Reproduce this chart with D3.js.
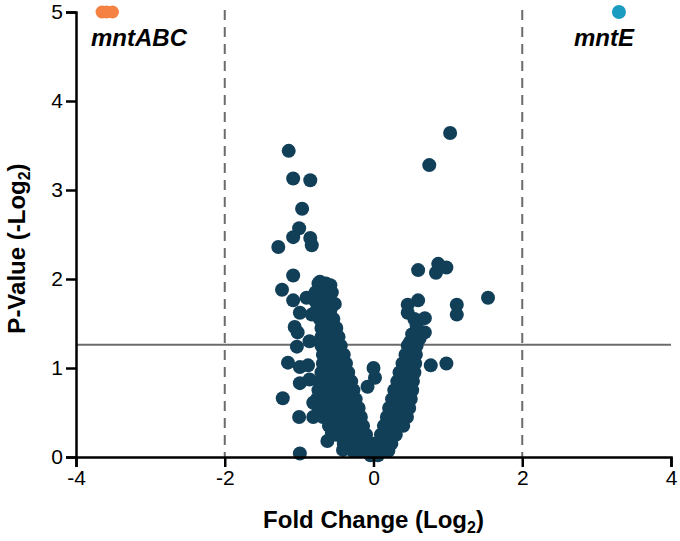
<!DOCTYPE html>
<html>
<head>
<meta charset="utf-8">
<script src="https://cdn.jsdelivr.net/npm/d3@7"></script>
<style>
body { margin:0; background:#fff; }
text { font-family:"Liberation Sans", Arial, sans-serif; }
.tick text { font-size:21px; }
.title { font-size:24px; font-weight:bold; }
.gene { font-size:24px; font-weight:bold; font-style:italic; }
</style>
</head>
<body>
<svg id="graph1"></svg>
<script>
// x ticks / y ticks
var xTicks = [-4,-2,0,2,4]
var yTicks = [0,1,2,3,4,5]
var foldCut = [-2,2]
var pCut = 1.26

// highlighted genes
var mntABCFold = [-3.65,-3.59,-3.51]
var mntABCP = [5,5,5]
var mntEFold = [3.30]
var mntEP = [5]

// all other genes [fold change (log2), p-value (-log2)]
var genes = [
    [-1.14,3.44],[-1.08,3.13],[-0.85,3.11],[-0.96,2.79],[-1.00,2.57],[-1.08,2.47],[-1.28,2.36],[-0.85,2.46],
    [-0.83,2.38],[-1.08,2.04],[-1.23,1.88],[-0.72,1.97],[-0.58,1.93],[-0.56,1.85],[-1.08,1.76],[-0.90,1.79],
    [-0.52,1.72],[-0.99,1.62],[-0.83,1.60],[-1.06,1.46],[-1.02,1.40],[-0.86,1.30],[-1.03,1.24],[-1.15,1.06],
    [-0.99,1.01],[-0.88,1.03],[-0.99,0.83],[-0.86,0.87],[-0.81,0.61],[-1.22,0.66],[-1.00,0.45],[-0.81,0.45],
    [-0.99,0.04],[-0.56,0.27],[-0.41,0.08],[-0.62,0.18],
    [0.00,1.00],[0.02,0.89],[-0.08,0.79],
    [1.03,3.64],[0.75,3.28],[0.60,2.10],[0.87,2.17],[0.98,2.13],[0.84,2.07],[1.54,1.79],[1.12,1.71],
    [1.12,1.60],[0.98,1.05],[0.77,1.03],[0.60,1.76],[0.46,1.71],[0.46,1.62],[0.69,1.56],[0.69,1.40],
    [0.49,1.29],[0.55,1.55],[0.58,1.48],[0.52,1.38],[0.62,1.33],
    [-0.74,1.95],[-0.64,1.95],
    [-0.78,1.85],[-0.68,1.85],[-0.60,1.85],
    [-0.78,1.75],[-0.68,1.75],[-0.60,1.75],
    [-0.76,1.65],[-0.66,1.65],[-0.58,1.65],
    [-0.72,1.55],[-0.62,1.55],[-0.54,1.55],
    [-0.70,1.45],[-0.60,1.45],[-0.50,1.45],
    [-0.70,1.35],[-0.60,1.35],[-0.50,1.35],[-0.47,1.35],
    [-0.70,1.25],[-0.60,1.25],[-0.52,1.25],[-0.44,1.25],
    [-0.68,1.15],[-0.58,1.15],[-0.48,1.15],[-0.40,1.15],
    [-0.68,1.05],[-0.58,1.05],[-0.48,1.05],[-0.37,1.05],
    [-0.70,0.95],[-0.60,0.95],[-0.50,0.95],[-0.42,0.95],[-0.34,0.95],
    [-0.72,0.85],[-0.62,0.85],[-0.52,0.85],[-0.42,0.85],[-0.30,0.85],
    [-0.74,0.75],[-0.64,0.75],[-0.54,0.75],[-0.44,0.75],[-0.35,0.75],[-0.27,0.75],
    [-0.76,0.65],[-0.66,0.65],[-0.56,0.65],[-0.46,0.65],[-0.36,0.65],[-0.24,0.65],
    [-0.74,0.55],[-0.64,0.55],[-0.54,0.55],[-0.44,0.55],[-0.34,0.55],[-0.26,0.55],[-0.20,0.55],
    [-0.68,0.45],[-0.58,0.45],[-0.48,0.45],[-0.38,0.45],[-0.28,0.45],[-0.17,0.45],
    [-0.60,0.35],[-0.50,0.35],[-0.40,0.35],[-0.30,0.35],[-0.22,0.35],[-0.14,0.35],
    [-0.50,0.25],[-0.40,0.25],[-0.30,0.25],[-0.20,0.25],[-0.10,0.25],
    [-0.40,0.15],[-0.30,0.15],[-0.20,0.15],[-0.10,0.15],[0.00,0.15],[0.08,0.15],[0.16,0.15],[0.24,0.15],
    [-0.28,0.07],[-0.18,0.07],[-0.08,0.07],[0.02,0.07],[0.12,0.07],[0.20,0.07],
    [-0.04,0.02],[0.06,0.02],
    [0.46,1.25],[0.54,1.25],[0.58,1.25],
    [0.43,1.15],[0.52,1.15],[0.57,1.15],
    [0.39,1.05],[0.48,1.05],[0.56,1.05],
    [0.35,0.95],[0.45,0.95],[0.55,0.95],
    [0.32,0.85],[0.42,0.85],[0.53,0.85],
    [0.28,0.75],[0.38,0.75],[0.47,0.75],[0.52,0.75],
    [0.25,0.65],[0.35,0.65],[0.44,0.65],[0.50,0.65],
    [0.21,0.55],[0.31,0.55],[0.41,0.55],[0.48,0.55],
    [0.18,0.45],[0.28,0.45],[0.38,0.45],[0.45,0.45],
    [0.14,0.35],[0.24,0.35],[0.34,0.35],[0.40,0.35],
    [0.10,0.25],[0.20,0.25],[0.30,0.25]
]

var drawLines = function(target,graph,xScale,yScale)
{
    target.selectAll(".cut")
        .data(foldCut)
        .enter()
        .append("line")
        .attr("x1",function(d){ return xScale(d) })
        .attr("x2",function(d){ return xScale(d) })
        .attr("y1",yScale(5)-2)
        .attr("y2",graph.height)
        .attr("stroke","#6b6b6b")
        .attr("stroke-width",2)
        .attr("stroke-dasharray","10,7")

    target.append("line")
        .attr("x1",0)
        .attr("x2",graph.width)
        .attr("y1",yScale(pCut))
        .attr("y2",yScale(pCut))
        .attr("stroke","#6b6b6b")
        .attr("stroke-width",2)
}

var drawPoints = function(target,xScale,yScale)
{
    target.append("g")
        .selectAll("circle")
        .data(genes)
        .enter()
        .append("circle")
        .attr("cx",function(d){ return xScale(d[0]) })
        .attr("cy",function(d){ return yScale(d[1]) })
        .attr("r",7)
        .attr("fill","#123f58")

    target.append("g")
        .selectAll("circle")
        .data(mntABCFold)
        .enter()
        .append("circle")
        .attr("cx",function(d){ return xScale(d) })
        .attr("cy",function(d,i){ return yScale(mntABCP[i]) })
        .attr("r",6.5)
        .attr("fill","#f58242")

    target.append("g")
        .selectAll("circle")
        .data(mntEFold)
        .enter()
        .append("circle")
        .attr("cx",function(d){ return xScale(d) })
        .attr("cy",function(d,i){ return yScale(mntEP[i]) })
        .attr("r",7)
        .attr("fill","#1a9cc0")
}

var drawAxes = function(graph,margins,xScale,yScale)
{
    var xAxis = d3.axisBottom(xScale).tickValues(xTicks).tickSize(10).tickPadding(3)
    var yAxis = d3.axisLeft(yScale).tickValues(yTicks).tickSize(10).tickPadding(3)

    var axes = d3.select("#graph1").append("g")

    axes.append("g")
        .attr("transform","translate("+margins.left+","+(margins.top+graph.height)+")")
        .call(xAxis)
    axes.append("g")
        .attr("transform","translate("+margins.left+","+margins.top+")")
        .call(yAxis)

    axes.selectAll(".domain").attr("stroke","#000").attr("stroke-width",2.5)
    axes.selectAll(".tick line").attr("stroke","#000").attr("stroke-width",2.5)
    axes.selectAll(".tick text").attr("fill","#000")
    axes.selectAll(".tick text").text(function(d){ return d < 0 ? "-" + Math.abs(d) : d })
}

var drawLabels = function(graph,margins,xScale,yScale)
{
    var labels = d3.select("#graph1").append("g")

    //x-axis
    var xt = labels.append("text")
        .classed("title",true)
        .attr("text-anchor","middle")
        .attr("x",margins.left+graph.width/2)
        .attr("y",528)
    xt.append("tspan").text("Fold Change (Log")
    xt.append("tspan").text("2").attr("font-size","16px").attr("dy",5)
    xt.append("tspan").text(")").attr("dy",-5)

    //y-axis
    var yt = labels.append("g")
        .attr("transform","translate(25,"+(margins.top+graph.height/2+14)+")")
        .append("text")
        .classed("title",true)
        .attr("text-anchor","middle")
        .attr("transform","rotate(270)")
    yt.append("tspan").text("P-Value (-Log")
    yt.append("tspan").text("2").attr("font-size","16px").attr("dy",5)
    yt.append("tspan").text(")").attr("dy",-5)

    //gene names
    labels.append("text")
        .classed("gene",true)
        .text("mntABC")
        .attr("x",91)
        .attr("y",46)
    labels.append("text")
        .classed("gene",true)
        .text("mntE")
        .attr("x",574)
        .attr("y",46)
}

var initGraph = function()
{
    var screen = {width:680,height:541}
    var margins = {left:76,right:9,top:12,bottom:84}

    var graph =
        {
            width:screen.width-margins.left-margins.right,
            height:screen.height-margins.top-margins.bottom
        };

    d3.select("#graph1")
        .attr("width",screen.width)
        .attr("height",screen.height)

    var target = d3.select("#graph1")
        .append("g")
        .attr("transform","translate("+margins.left+","+margins.top+")");

    var xScale = d3.scaleLinear()
        .domain([-4,4])
        .range([0,graph.width])

    var yScale = d3.scaleLinear()
        .domain([0,5])
        .range([graph.height,0])

    drawLines(target,graph,xScale,yScale)
    drawPoints(target,xScale,yScale)
    drawAxes(graph,margins,xScale,yScale)
    drawLabels(graph,margins,xScale,yScale)
}

initGraph()
</script>
</body>
</html>
